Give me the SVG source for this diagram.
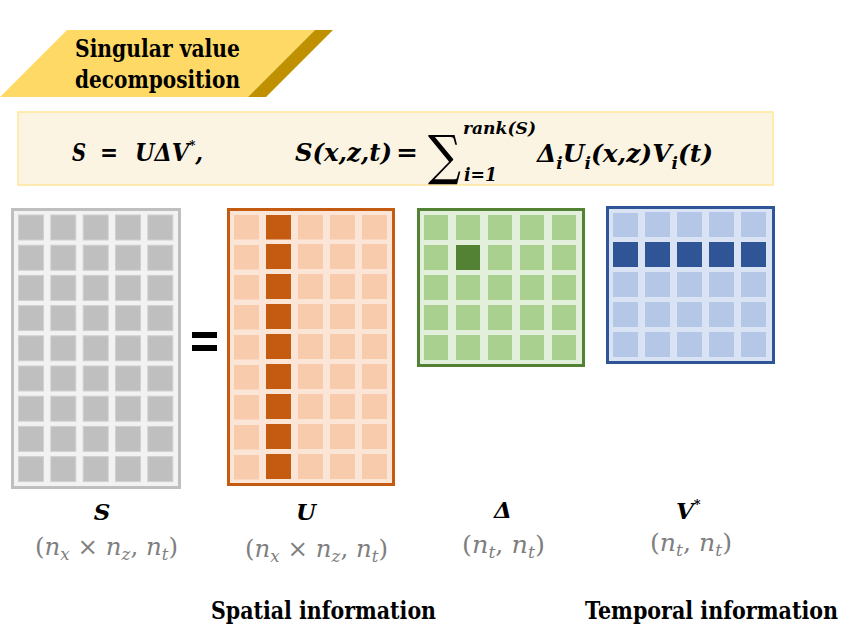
<svg xmlns="http://www.w3.org/2000/svg" width="855" height="642" viewBox="0 0 855 642">
<style>
text{font-family:"DejaVu Serif",serif}
.ttl{font-weight:bold;font-size:25px;fill:#000}
.math{font-weight:bold;font-style:italic;fill:#000}
.dim{font-size:25px;fill:#7F7F7F}
.dim .v{font-style:italic}
.cs{fill:#BFBFBF;stroke:#D0D0D0;stroke-width:1}
.cu{fill:#F8CBAD}
.cud{fill:#C55A11}
.cd{fill:#A9D08E}
.cdd{fill:#548235}
.cv{fill:#B4C7E7}
.cvd{fill:#2F5597}
</style>
<rect width="855" height="642" fill="#FFFFFF"/>
<g id="banner">
<polygon points="67,30 315,30 248,97 0,97" fill="#FFD966"/>
<polygon points="315,30 333,30 266,97 248,97" fill="#BF9000"/>
<text class="ttl" x="75" y="57" textLength="165" lengthAdjust="spacingAndGlyphs">Singular value</text>
<text class="ttl" x="75" y="88" textLength="165" lengthAdjust="spacingAndGlyphs">decomposition</text>
</g>
<g id="formula">
<rect x="18" y="112" width="755" height="73" fill="#FBF4E3" stroke="#FFE699" stroke-width="1.5"/>
<text class="math" x="72" y="161" font-size="25" textLength="14" lengthAdjust="spacingAndGlyphs">S</text>
<text class="math" x="100" y="161" font-size="25" textLength="18" lengthAdjust="spacingAndGlyphs">=</text>
<text class="math" x="135" y="161" font-size="25" textLength="68" lengthAdjust="spacingAndGlyphs">UΔV<tspan dy="-11" font-size="13">*</tspan><tspan dy="11">,</tspan></text>
<text class="math" x="295" y="161" font-size="25" textLength="97" lengthAdjust="spacingAndGlyphs">S(x,z,t)</text>
<text class="math" x="396" y="161" font-size="25" textLength="22" lengthAdjust="spacingAndGlyphs">=</text>
<text x="428" y="174" font-size="54" fill="#000" textLength="33" lengthAdjust="spacingAndGlyphs">∑</text>
<text class="math" x="463" y="134" font-size="17" textLength="73" lengthAdjust="spacingAndGlyphs">rank(S)</text>
<text class="math" x="464" y="181" font-size="19" textLength="33" lengthAdjust="spacingAndGlyphs">i=1</text>
<text class="math" x="537" y="162" font-size="25" textLength="176" lengthAdjust="spacingAndGlyphs">Δ<tspan dy="7" font-size="17">i</tspan><tspan dy="-7">U</tspan><tspan dy="7" font-size="17">i</tspan><tspan dy="-7">(x,z)V</tspan><tspan dy="7" font-size="17">i</tspan><tspan dy="-7">(t)</tspan></text>
</g>
<g id="matrix-S">
<rect x="12.5" y="209.5" width="167" height="278" fill="#F2F2F2" stroke="#BFBFBF" stroke-width="3"/>
<g id="cells-S">
<rect class="cs" x="18.5" y="215" width="25" height="25"/><rect class="cs" x="50.8" y="215" width="25" height="25"/><rect class="cs" x="83.2" y="215" width="25" height="25"/><rect class="cs" x="115.5" y="215" width="25" height="25"/><rect class="cs" x="147.8" y="215" width="25" height="25"/>
<rect class="cs" x="18.5" y="245.2" width="25" height="25"/><rect class="cs" x="50.8" y="245.2" width="25" height="25"/><rect class="cs" x="83.2" y="245.2" width="25" height="25"/><rect class="cs" x="115.5" y="245.2" width="25" height="25"/><rect class="cs" x="147.8" y="245.2" width="25" height="25"/>
<rect class="cs" x="18.5" y="275.4" width="25" height="25"/><rect class="cs" x="50.8" y="275.4" width="25" height="25"/><rect class="cs" x="83.2" y="275.4" width="25" height="25"/><rect class="cs" x="115.5" y="275.4" width="25" height="25"/><rect class="cs" x="147.8" y="275.4" width="25" height="25"/>
<rect class="cs" x="18.5" y="305.6" width="25" height="25"/><rect class="cs" x="50.8" y="305.6" width="25" height="25"/><rect class="cs" x="83.2" y="305.6" width="25" height="25"/><rect class="cs" x="115.5" y="305.6" width="25" height="25"/><rect class="cs" x="147.8" y="305.6" width="25" height="25"/>
<rect class="cs" x="18.5" y="335.8" width="25" height="25"/><rect class="cs" x="50.8" y="335.8" width="25" height="25"/><rect class="cs" x="83.2" y="335.8" width="25" height="25"/><rect class="cs" x="115.5" y="335.8" width="25" height="25"/><rect class="cs" x="147.8" y="335.8" width="25" height="25"/>
<rect class="cs" x="18.5" y="366" width="25" height="25"/><rect class="cs" x="50.8" y="366" width="25" height="25"/><rect class="cs" x="83.2" y="366" width="25" height="25"/><rect class="cs" x="115.5" y="366" width="25" height="25"/><rect class="cs" x="147.8" y="366" width="25" height="25"/>
<rect class="cs" x="18.5" y="396.2" width="25" height="25"/><rect class="cs" x="50.8" y="396.2" width="25" height="25"/><rect class="cs" x="83.2" y="396.2" width="25" height="25"/><rect class="cs" x="115.5" y="396.2" width="25" height="25"/><rect class="cs" x="147.8" y="396.2" width="25" height="25"/>
<rect class="cs" x="18.5" y="426.4" width="25" height="25"/><rect class="cs" x="50.8" y="426.4" width="25" height="25"/><rect class="cs" x="83.2" y="426.4" width="25" height="25"/><rect class="cs" x="115.5" y="426.4" width="25" height="25"/><rect class="cs" x="147.8" y="426.4" width="25" height="25"/>
<rect class="cs" x="18.5" y="456.6" width="25" height="25"/><rect class="cs" x="50.8" y="456.6" width="25" height="25"/><rect class="cs" x="83.2" y="456.6" width="25" height="25"/><rect class="cs" x="115.5" y="456.6" width="25" height="25"/><rect class="cs" x="147.8" y="456.6" width="25" height="25"/>
</g>
<text class="math" x="102" y="520" font-size="23" text-anchor="middle">S</text>
<text class="dim" x="35" y="555" textLength="143" lengthAdjust="spacingAndGlyphs">(<tspan class="v">n</tspan><tspan class="v" dy="5" font-size="17">x</tspan><tspan dy="-5"> × </tspan><tspan class="v">n</tspan><tspan class="v" dy="5" font-size="17">z</tspan><tspan dy="-5">, </tspan><tspan class="v">n</tspan><tspan class="v" dy="5" font-size="17">t</tspan><tspan dy="-5">)</tspan></text>
</g>
<g id="equals">
<rect x="192" y="332" width="25" height="6" fill="#000"/>
<rect x="192" y="345" width="25" height="6" fill="#000"/>
</g>
<g id="matrix-U">
<rect x="228.5" y="209.5" width="165" height="275" fill="#FBE5D6" stroke="#C55A11" stroke-width="3"/>
<g id="cells-U">
<rect class="cu" x="234" y="215" width="25" height="24.5"/><rect class="cud" x="266" y="215" width="25" height="24.5"/><rect class="cu" x="298" y="215" width="25" height="24.5"/><rect class="cu" x="330" y="215" width="25" height="24.5"/><rect class="cu" x="362" y="215" width="25" height="24.5"/>
<rect class="cu" x="234" y="245" width="25" height="24.5"/><rect class="cud" x="266" y="244" width="25" height="25"/><rect class="cu" x="298" y="244" width="25" height="25"/><rect class="cu" x="330" y="244" width="25" height="25"/><rect class="cu" x="362" y="244" width="25" height="25"/>
<rect class="cu" x="234" y="275" width="25" height="24.5"/><rect class="cud" x="266" y="274" width="25" height="25"/><rect class="cu" x="298" y="274" width="25" height="25"/><rect class="cu" x="330" y="274" width="25" height="25"/><rect class="cu" x="362" y="274" width="25" height="25"/>
<rect class="cu" x="234" y="305" width="25" height="24.5"/><rect class="cud" x="266" y="304" width="25" height="25"/><rect class="cu" x="298" y="304" width="25" height="25"/><rect class="cu" x="330" y="304" width="25" height="25"/><rect class="cu" x="362" y="304" width="25" height="25"/>
<rect class="cu" x="234" y="335" width="25" height="24.5"/><rect class="cud" x="266" y="334" width="25" height="25"/><rect class="cu" x="298" y="334" width="25" height="25"/><rect class="cu" x="330" y="334" width="25" height="25"/><rect class="cu" x="362" y="334" width="25" height="25"/>
<rect class="cu" x="234" y="365" width="25" height="24.5"/><rect class="cud" x="266" y="364" width="25" height="25"/><rect class="cu" x="298" y="364" width="25" height="25"/><rect class="cu" x="330" y="364" width="25" height="25"/><rect class="cu" x="362" y="364" width="25" height="25"/>
<rect class="cu" x="234" y="395" width="25" height="24.5"/><rect class="cud" x="266" y="394" width="25" height="25"/><rect class="cu" x="298" y="394" width="25" height="25"/><rect class="cu" x="330" y="394" width="25" height="25"/><rect class="cu" x="362" y="394" width="25" height="25"/>
<rect class="cu" x="234" y="425" width="25" height="24.5"/><rect class="cud" x="266" y="424" width="25" height="25"/><rect class="cu" x="298" y="424" width="25" height="25"/><rect class="cu" x="330" y="424" width="25" height="25"/><rect class="cu" x="362" y="424" width="25" height="25"/>
<rect class="cu" x="234" y="455" width="25" height="24.5"/><rect class="cud" x="266" y="454" width="25" height="25"/><rect class="cu" x="298" y="454" width="25" height="25"/><rect class="cu" x="330" y="454" width="25" height="25"/><rect class="cu" x="362" y="454" width="25" height="25"/>
</g>
<text class="math" x="306" y="520" font-size="23" text-anchor="middle">U</text>
<text class="dim" x="245" y="557" textLength="143" lengthAdjust="spacingAndGlyphs">(<tspan class="v">n</tspan><tspan class="v" dy="5" font-size="17">x</tspan><tspan dy="-5"> × </tspan><tspan class="v">n</tspan><tspan class="v" dy="5" font-size="17">z</tspan><tspan dy="-5">, </tspan><tspan class="v">n</tspan><tspan class="v" dy="5" font-size="17">t</tspan><tspan dy="-5">)</tspan></text>
</g>
<g id="matrix-Delta">
<rect x="418.5" y="209.5" width="165" height="156" fill="#E2EFDA" stroke="#548235" stroke-width="3"/>
<g id="cells-Delta">
<rect class="cd" x="424" y="215" width="24" height="25"/><rect class="cd" x="456" y="215" width="24" height="25"/><rect class="cd" x="488" y="215" width="24" height="25"/><rect class="cd" x="520" y="215" width="24" height="25"/><rect class="cd" x="552" y="215" width="24" height="25"/>
<rect class="cd" x="424" y="245" width="24" height="25"/><rect class="cdd" x="456" y="245" width="24" height="25"/><rect class="cd" x="488" y="245" width="24" height="25"/><rect class="cd" x="520" y="245" width="24" height="25"/><rect class="cd" x="552" y="245" width="24" height="25"/>
<rect class="cd" x="424" y="275" width="24" height="25"/><rect class="cd" x="456" y="275" width="24" height="25"/><rect class="cd" x="488" y="275" width="24" height="25"/><rect class="cd" x="520" y="275" width="24" height="25"/><rect class="cd" x="552" y="275" width="24" height="25"/>
<rect class="cd" x="424" y="305" width="24" height="25"/><rect class="cd" x="456" y="305" width="24" height="25"/><rect class="cd" x="488" y="305" width="24" height="25"/><rect class="cd" x="520" y="305" width="24" height="25"/><rect class="cd" x="552" y="305" width="24" height="25"/>
<rect class="cd" x="424" y="335" width="24" height="25"/><rect class="cd" x="456" y="335" width="24" height="25"/><rect class="cd" x="488" y="335" width="24" height="25"/><rect class="cd" x="520" y="335" width="24" height="25"/><rect class="cd" x="552" y="335" width="24" height="25"/>
</g>
<text class="math" x="503" y="518" font-size="23" text-anchor="middle">Δ</text>
<text class="dim" x="462" y="553" textLength="83" lengthAdjust="spacingAndGlyphs">(<tspan class="v">n</tspan><tspan class="v" dy="5" font-size="17">t</tspan><tspan dy="-5">, </tspan><tspan class="v">n</tspan><tspan class="v" dy="5" font-size="17">t</tspan><tspan dy="-5">)</tspan></text>
</g>
<g id="matrix-V">
<rect x="607.5" y="207.5" width="166" height="155" fill="#DAE3F3" stroke="#2F5597" stroke-width="3"/>
<g id="cells-V">
<rect class="cv" x="613" y="213" width="25" height="24"/><rect class="cv" x="645" y="212" width="25" height="25"/><rect class="cv" x="677" y="212" width="25" height="25"/><rect class="cv" x="709" y="212" width="25" height="25"/><rect class="cv" x="741" y="212" width="25" height="25"/>
<rect class="cvd" x="613" y="242" width="25" height="25"/><rect class="cvd" x="645" y="242" width="25" height="25"/><rect class="cvd" x="677" y="242" width="25" height="25"/><rect class="cvd" x="709" y="242" width="25" height="25"/><rect class="cvd" x="741" y="242" width="25" height="25"/>
<rect class="cv" x="613" y="272" width="25" height="25"/><rect class="cv" x="645" y="272" width="25" height="25"/><rect class="cv" x="677" y="272" width="25" height="25"/><rect class="cv" x="709" y="272" width="25" height="25"/><rect class="cv" x="741" y="272" width="25" height="25"/>
<rect class="cv" x="613" y="302" width="25" height="25"/><rect class="cv" x="645" y="302" width="25" height="25"/><rect class="cv" x="677" y="302" width="25" height="25"/><rect class="cv" x="709" y="302" width="25" height="25"/><rect class="cv" x="741" y="302" width="25" height="25"/>
<rect class="cv" x="613" y="332" width="25" height="25"/><rect class="cv" x="645" y="332" width="25" height="25"/><rect class="cv" x="677" y="332" width="25" height="25"/><rect class="cv" x="709" y="332" width="25" height="25"/><rect class="cv" x="741" y="332" width="25" height="25"/>
</g>
<text class="math" x="676" y="519" font-size="23">V<tspan dy="-10" font-size="13">*</tspan></text>
<text class="dim" x="650" y="551" textLength="82" lengthAdjust="spacingAndGlyphs">(<tspan class="v">n</tspan><tspan class="v" dy="5" font-size="17">t</tspan><tspan dy="-5">, </tspan><tspan class="v">n</tspan><tspan class="v" dy="5" font-size="17">t</tspan><tspan dy="-5">)</tspan></text>
</g>
<g id="captions">
<text class="ttl" x="211" y="619" textLength="225" lengthAdjust="spacingAndGlyphs">Spatial information</text>
<text class="ttl" x="585" y="619" textLength="253" lengthAdjust="spacingAndGlyphs">Temporal information</text>
</g>
</svg>
